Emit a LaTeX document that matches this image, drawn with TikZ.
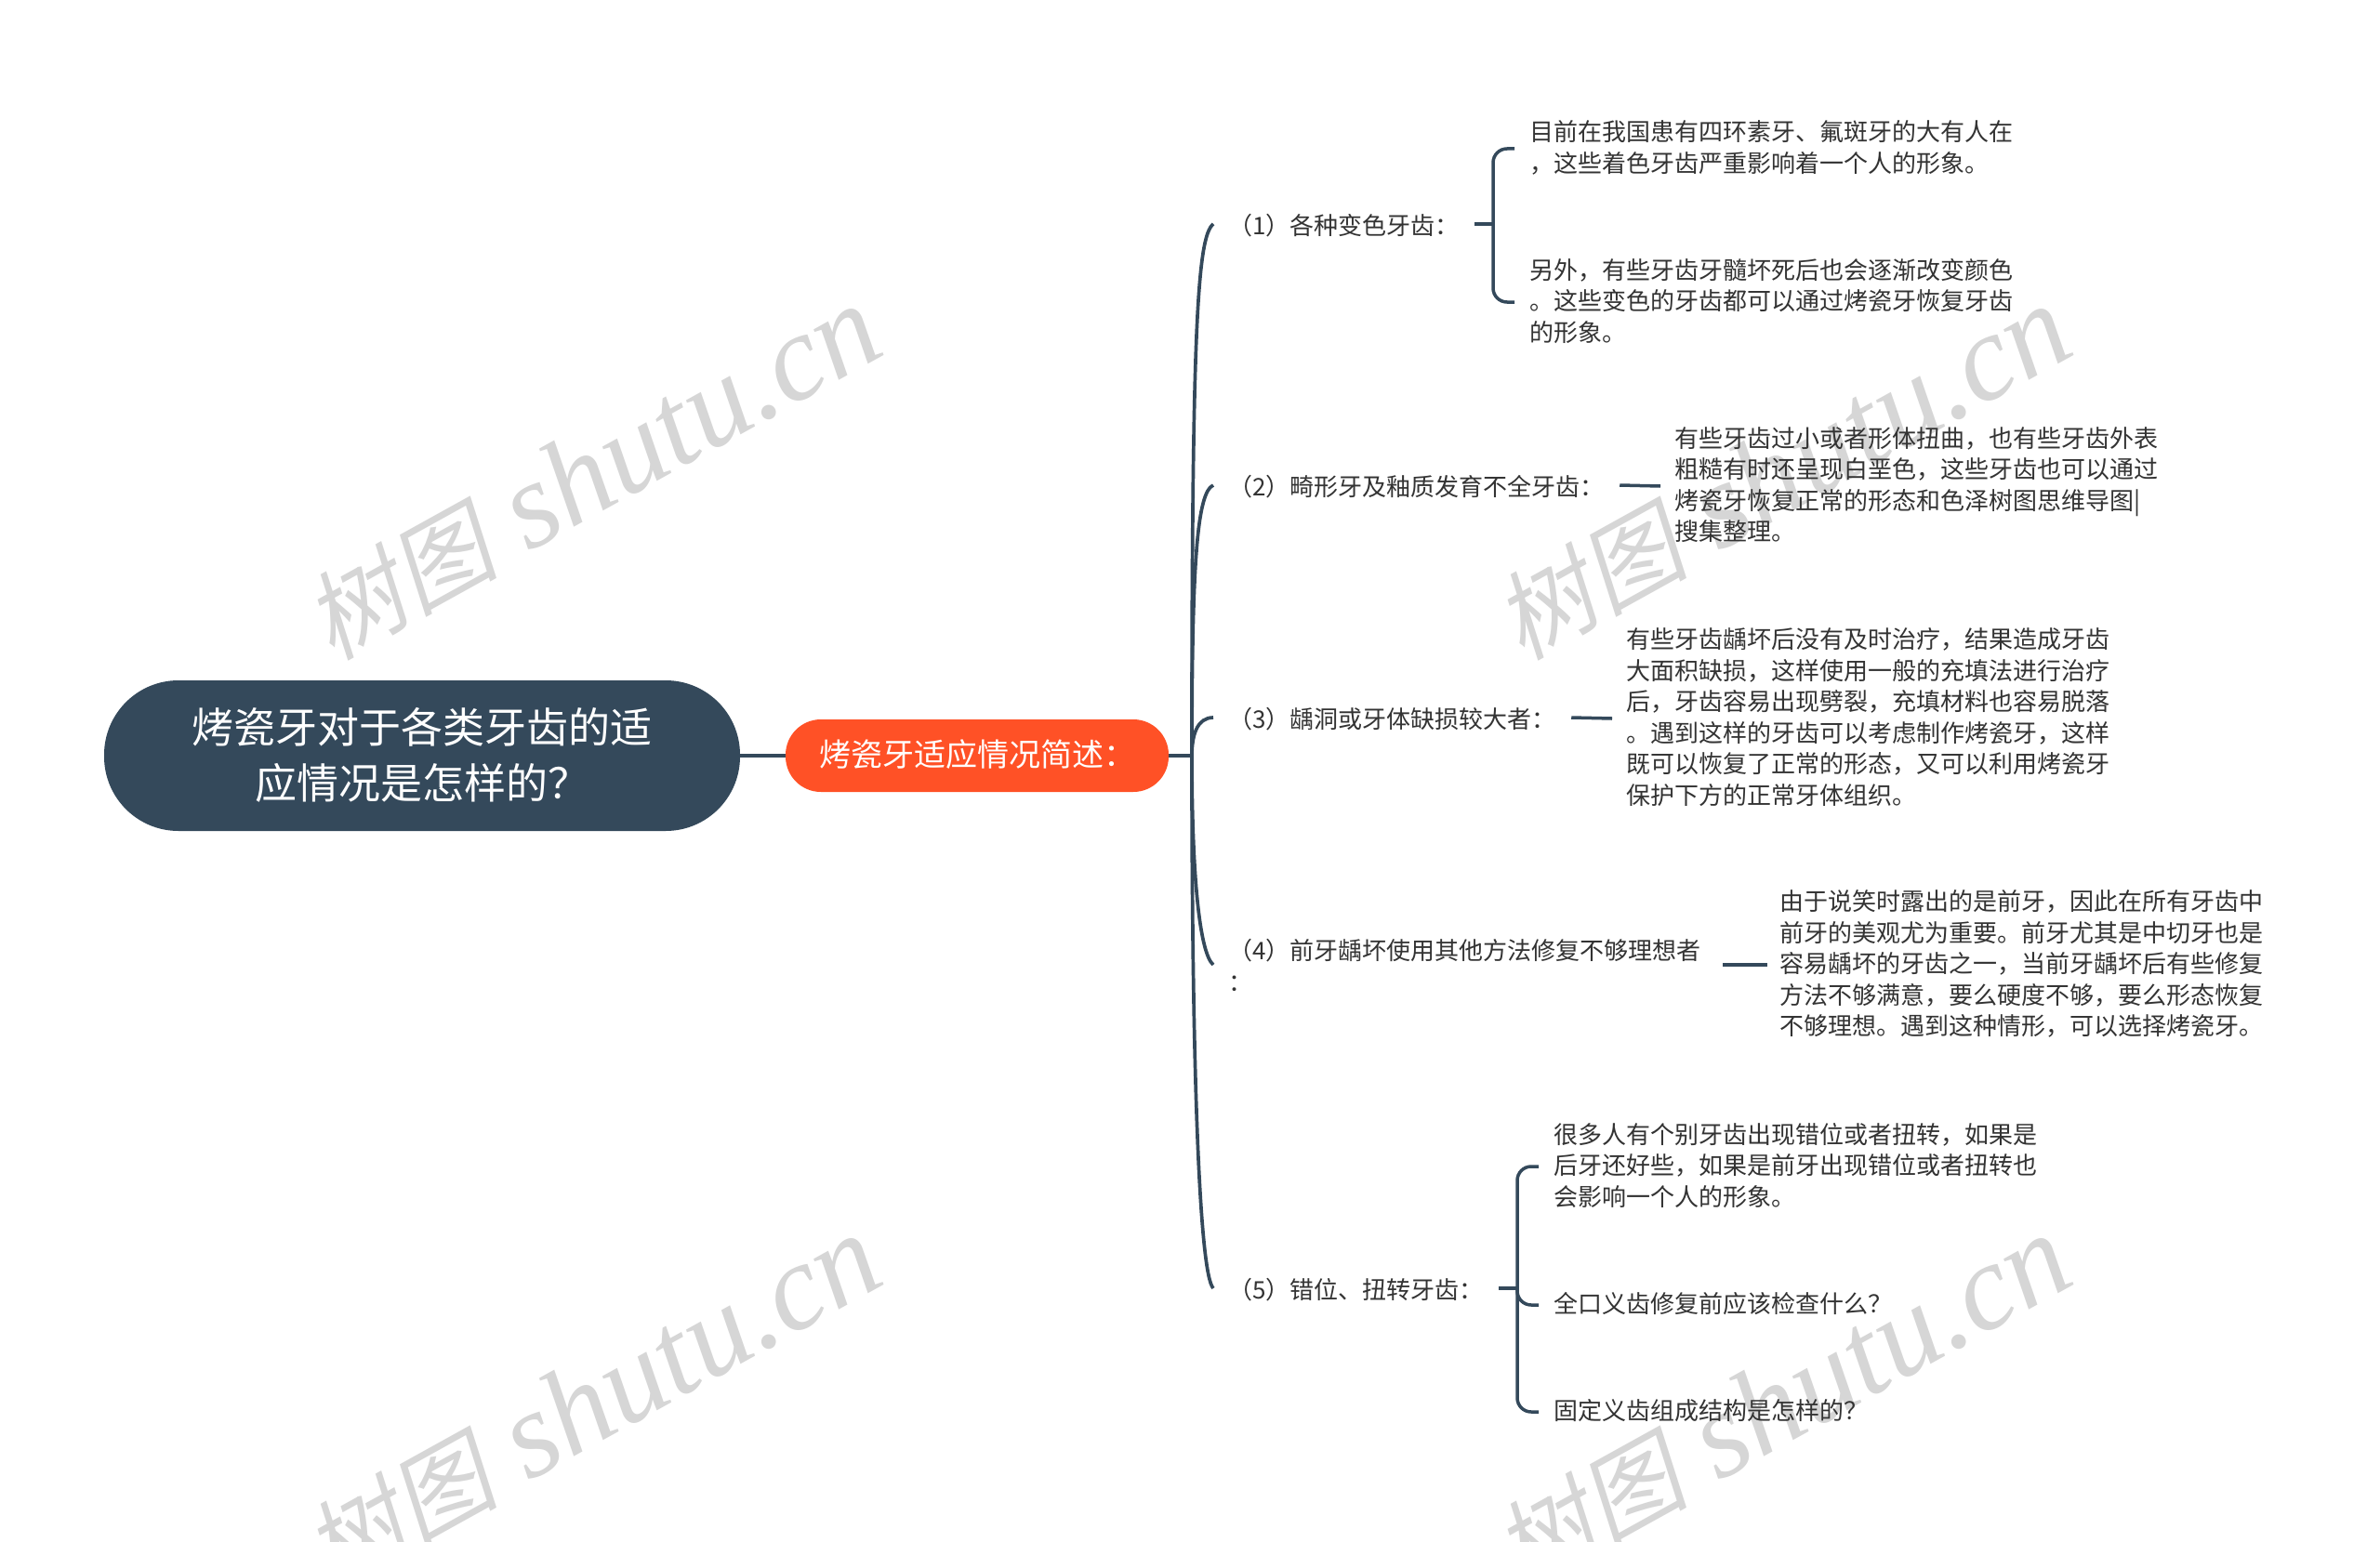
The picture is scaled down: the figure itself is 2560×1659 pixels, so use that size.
\documentclass[tikz,border=0pt]{standalone}
\usepackage{fontspec}
\setmainfont{Noto Sans CJK SC}
\newfontfamily\wmcjk[FakeSlant=0.2]{Noto Sans CJK SC}
\newfontfamily\wmlat{Liberation Serif}
\definecolor{ink}{HTML}{34495B}
\definecolor{hot}{HTML}{FF5126}
\definecolor{txt}{HTML}{333333}
\definecolor{wm}{HTML}{D6D6D6}
\newcommand{\ls}{\rule[-2.75pt]{0pt}{14pt}}
\newcommand{\lsb}{\rule[-1.75pt]{0pt}{15pt}}
\newcommand{\wmtext}{{\fontsize{52pt}{58pt}\selectfont\wmcjk 树图}{\fontsize{66pt}{66pt}\selectfont\wmlat\itshape\ shutu.cn}}
\tikzset{
  watermark/.style={text=wm,rotate=29,inner sep=0pt},
  rootbox/.style={fill=ink,rounded corners=40pt,minimum width=342pt,minimum height=81pt,inner sep=0pt,text=white,align=center,font=\fontsize{22.5pt}{30pt}\selectfont},
  subbox/.style={fill=hot,rounded corners=19pt,minimum width=206pt,minimum height=39pt,inner sep=0pt,text=white,font=\fontsize{17pt}{20pt}\selectfont},
  item/.style={anchor=west,inner xsep=8pt,inner ysep=0pt,text=txt,align=left,font=\fontsize{13pt}{16.75pt}\selectfont},
  conn/.style={draw=ink,line width=1.75pt},
  brk/.style={conn,rounded corners=7.5pt},
  branch/.style={draw=ink,line width=1.85pt},
}
\begin{document}
\begin{tikzpicture}[x=0.5pt,y=-0.5pt]
\useasboundingbox (0,0) rectangle (2560,1659);
\clip (0,0) rectangle (2560,1659);
\fill[white] (0,0) rectangle (2560,1659);
% watermarks
\node[watermark] (w1) at (637,509) {\wmtext};
\node[watermark] (w2) at (1917,509) {\wmtext};
\node[watermark] (w3) at (637,1509) {\wmtext};
\node[watermark] (w4) at (1917,1509) {\wmtext};
% main nodes
\node[rootbox] (root) at (454,813) {\ls 烤瓷牙对于各类牙齿的适\\\ls 应情况是怎样的？};
\node[subbox] (sub) at (1051,813) {\ls 烤瓷牙适应情况简述：};
\coordinate (hub) at (1282,813);
% labels
\node[item] (a1) at (1305,241) {\lsb （1）各种变色牙齿：};
\node[item] (a2) at (1305,522) {\lsb （2）畸形牙及釉质发育不全牙齿：};
\node[item] (a3) at (1305,772) {\lsb （3）龋洞或牙体缺损较大者：};
\node[item] (a4) at (1305,1038) {\rule[-2.75pt]{0pt}{17pt}（4）前牙龋坏使用其他方法修复不够理想者\\\ls ：};
\node[item] (a5) at (1305,1386) {\lsb （5）错位、扭转牙齿：};
% leaves
\node[item] (b1) at (1629,160) {\ls 目前在我国患有四环素牙、氟斑牙的大有人在\\\ls ，这些着色牙齿严重影响着一个人的形象。};
\node[item] (b2) at (1629,325) {\ls 另外，有些牙齿牙髓坏死后也会逐渐改变颜色\\\ls 。这些变色的牙齿都可以通过烤瓷牙恢复牙齿\\\ls 的形象。};
\node[item,inner xsep=7.5pt] (c1) at (1786,523) {\ls 有些牙齿过小或者形体扭曲，也有些牙齿外表\\\ls 粗糙有时还呈现白垩色，这些牙齿也可以通过\\\ls 烤瓷牙恢复正常的形态和色泽树图思维导图|\\\ls 搜集整理。};
\node[item,inner xsep=7.5pt] (d1) at (1734,773) {\ls 有些牙齿龋坏后没有及时治疗，结果造成牙齿\\\ls 大面积缺损，这样使用一般的充填法进行治疗\\\ls 后，牙齿容易出现劈裂，充填材料也容易脱落\\\ls 。遇到这样的牙齿可以考虑制作烤瓷牙，这样\\\ls 既可以恢复了正常的形态，又可以利用烤瓷牙\\\ls 保护下方的正常牙体组织。};
\node[item,inner xsep=6.5pt] (e1) at (1901,1038) {\ls 由于说笑时露出的是前牙，因此在所有牙齿中\\\ls 前牙的美观尤为重要。前牙尤其是中切牙也是\\\ls 容易龋坏的牙齿之一，当前牙龋坏后有些修复\\\ls 方法不够满意，要么硬度不够，要么形态恢复\\\ls 不够理想。遇到这种情形，可以选择烤瓷牙。};
\node[item] (f1) at (1655,1255) {\ls 很多人有个别牙齿出现错位或者扭转，如果是\\\ls 后牙还好些，如果是前牙出现错位或者扭转也\\\ls 会影响一个人的形象。};
\node[item] (f2) at (1655,1404) {\ls 全口义齿修复前应该检查什么？};
\node[item] (f3) at (1655,1519) {\ls 固定义齿组成结构是怎样的？};
% connectors
\draw[conn] (root.east) -- (sub.west);
\draw[conn] (sub.east) -- (hub);
\draw[branch] (hub) .. controls (1282,350) and (1288,255) .. (a1.west);
\draw[branch] (hub) .. controls (1282,600) and (1288,530) .. (a2.west);
\draw[branch] (hub) .. controls (1282,790) and (1288,772) .. (a3.west);
\draw[branch] (hub) .. controls (1282,940) and (1290,1025) .. (a4.west);
\draw[branch] (hub) .. controls (1282,1150) and (1290,1370) .. (a5.west);
\coordinate (j1) at (1606,241);
\coordinate (j5) at (1632,1386);
\coordinate (e0) at (1853,1038);
\draw[conn] (a1.east) -- (j1);
\draw[brk] (b1.west) -| (j1) |- (b2.west);
\draw[conn] (a2.east) -- (c1.west);
\draw[conn] (a3.east) -- (d1.west);
\draw[conn] (e0) -- (e1.west);
\draw[conn] (a5.east) -- (j5);
\draw[brk] (f1.west) -| (j5) |- (f3.west);
\draw[brk] (j5) |- (f2.west);
\end{tikzpicture}
\end{document}
